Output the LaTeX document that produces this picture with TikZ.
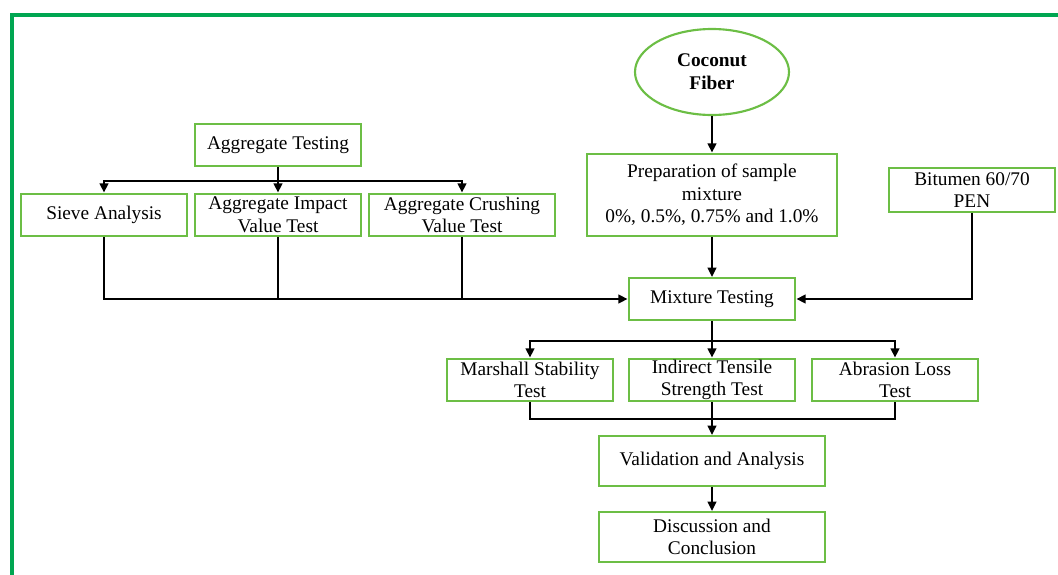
\documentclass[tikz,border=0pt]{standalone}
\usepackage{fontspec}
\setmainfont{Liberation Serif}
\usepackage{tikz}
\usetikzlibrary{arrows.meta,shapes.geometric,positioning,calc}

\definecolor{framegreen}{RGB}{0,166,81}
\definecolor{boxgreen}{RGB}{108,190,69}

\begin{document}
\begin{tikzpicture}[
    x=0.75pt, y=-0.75pt,
    box/.style={draw=boxgreen, line width=1.6pt, inner sep=0pt, align=center, fill=white,
        font=\fontsize{14.5}{17}\selectfont, minimum width=124.5pt, minimum height=32pt},
    oval/.style={ellipse, draw=boxgreen, line width=1.6pt, inner sep=0pt, align=center,
        font=\fontsize{14.5}{17}\selectfont\bfseries, minimum width=115.5pt, minimum height=64.5pt},
    arr/.style={-{Triangle[length=7pt,width=6.5pt]}, line width=1.6pt},
    line/.style={line width=1.6pt}
]
\useasboundingbox (0,0) rectangle (1058,575);
\draw[framegreen, line width=2.3pt] (1058,15) -- (12,15) -- (12,575);

% aggregate side
\node[box] (aggt) at (278,145) {Aggregate Testing};
\node[box] (sieve) at (104,215) {Sieve Analysis};
\node[box] (impact) at (278,215) {Aggregate Impact\\Value Test};
\node[box, minimum width=139pt] (crush) at (462,215) {Aggregate Crushing\\Value Test};

% fiber and binder
\node[oval] (fiber) at (712,72) {Coconut\\Fiber};
\node[box, minimum width=187.5pt, minimum height=62pt] (prep) at (712,195) {Preparation of sample\\mixture\\0\%, 0.5\%, 0.75\% and 1.0\%};
\node[box, minimum height=33pt] (bitu) at (972,190) {Bitumen 60/70\\PEN};

% mixture tests
\node[box, minimum width=125pt, minimum height=31.5pt] (mixt) at (712,299) {Mixture Testing};
\node[box] (marsh) at (530,380) {Marshall Stability\\Test};
\node[box] (its) at (712,380) {Indirect Tensile\\Strength Test};
\node[box] (abras) at (895,380) {Abrasion Loss\\Test};
\node[box, minimum width=169pt, minimum height=37.5pt] (valid) at (712,461) {Validation and Analysis};
\node[box, minimum width=169pt, minimum height=37.5pt] (disc) at (712,537) {Discussion and\\Conclusion};

\draw[arr] (aggt.south) -- ++(0,14) -| (sieve.north);
\draw[arr] (aggt.south) -- ++(0,14) -| (crush.north);
\draw[arr] (aggt.south) -- (impact.north);

\draw[arr] (sieve.south) |- (mixt.west);
\draw[line] (impact.south) -- (impact.south |- mixt.west);
\draw[line] (crush.south) -- (crush.south |- mixt.west);
\draw[arr] (bitu.south) |- (mixt.east);

\draw[arr] (fiber.south) -- (prep.north);
\draw[arr] (prep.south) -- (mixt.north);

\draw[arr] (mixt.south) -- ++(0,20) -| (marsh.north);
\draw[arr] (mixt.south) -- ++(0,20) -| (abras.north);
\draw[arr] (mixt.south) -- (its.north);

\draw[line] (marsh.south) -- ++(0,17) -| (abras.south);
\draw[arr] (its.south) -- (valid.north);
\draw[arr] (valid.south) -- (disc.north);
\end{tikzpicture}
\end{document}
